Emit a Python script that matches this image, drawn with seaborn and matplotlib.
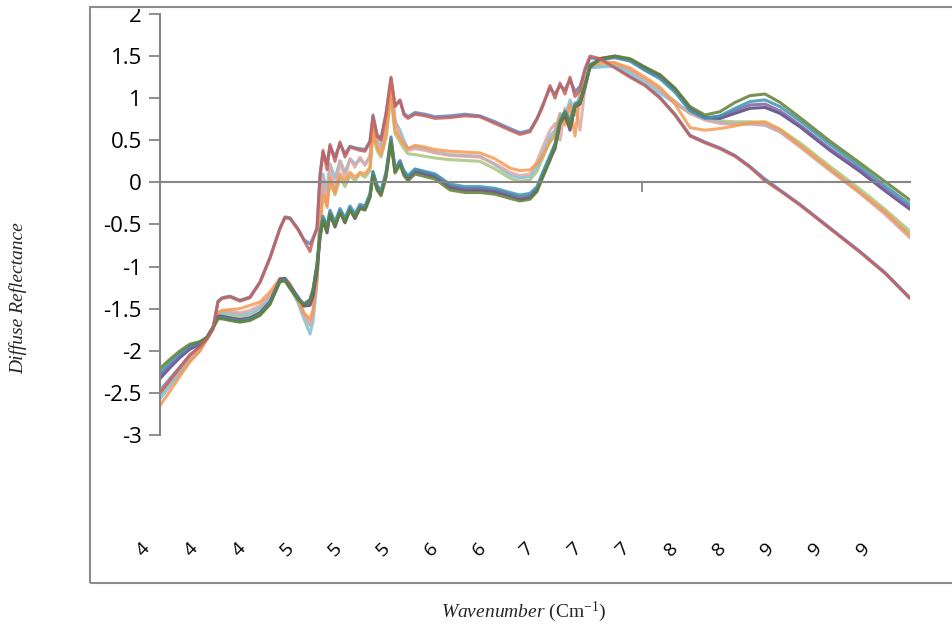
import pandas as pd
import seaborn as sns
import matplotlib.pyplot as plt
import matplotlib.transforms as mtransforms
from matplotlib.patches import Rectangle

wavenumber = [4000, 4080, 4160, 4240, 4320, 4376, 4424, 4464, 4496, 4560,
              4640, 4720, 4800, 4880, 4960, 5000, 5040, 5104, 5152, 5200,
              5224, 5256, 5280, 5304, 5336, 5360, 5400, 5440, 5480, 5520,
              5560, 5600, 5640, 5680, 5704, 5736, 5768, 5808, 5848, 5880,
              5920, 5952, 5984, 6040, 6120, 6200, 6320, 6440, 6560, 6680,
              6800, 6880, 6960, 7016, 7056, 7120, 7160, 7200, 7240, 7280,
              7320, 7360, 7400, 7440, 7520, 7640, 7760, 7880, 8000, 8120,
              8240, 8360, 8480, 8600, 8720, 8840, 8960, 9120, 9360, 9600,
              9800, 10000]

s_azul = [-2.47, -2.33, -2.19, -2.05, -1.95, -1.86, -1.73, -1.41, -1.37, -1.35,
          -1.40, -1.36, -1.18, -0.89, -0.54, -0.41, -0.42, -0.55, -0.68, -0.73,
          -0.66, -0.54, 0.10, 0.36, 0.22, 0.43, 0.30, 0.46, 0.34, 0.43,
          0.41, 0.40, 0.39, 0.49, 0.80, 0.57, 0.52, 0.82, 1.23, 0.92,
          0.97, 0.82, 0.78, 0.83, 0.81, 0.78, 0.79, 0.81, 0.79, 0.72,
          0.64, 0.59, 0.62, 0.76, 0.90, 1.12, 1.05, 1.15, 1.10, 1.22,
          1.08, 1.14, 1.33, 1.48, 1.46, 1.37, 1.26, 1.16, 1.01, 0.81,
          0.56, 0.48, 0.41, 0.32, 0.19, 0.04, -0.09, -0.26, -0.54, -0.82,
          -1.07, -1.37]

s_rojo = [-2.50, -2.35, -2.20, -2.05, -1.95, -1.86, -1.74, -1.42, -1.38, -1.36,
          -1.41, -1.37, -1.19, -0.90, -0.55, -0.42, -0.43, -0.56, -0.69, -0.82,
          -0.68, -0.55, 0.05, 0.38, 0.15, 0.45, 0.25, 0.48, 0.30, 0.42,
          0.40, 0.38, 0.37, 0.48, 0.78, 0.55, 0.50, 0.80, 1.25, 0.90,
          0.98, 0.80, 0.76, 0.81, 0.79, 0.76, 0.77, 0.79, 0.78, 0.70,
          0.62, 0.57, 0.60, 0.75, 0.88, 1.15, 1.00, 1.18, 1.05, 1.25,
          1.02, 1.10, 1.35, 1.50, 1.47, 1.36, 1.25, 1.15, 1.00, 0.80,
          0.55, 0.47, 0.40, 0.31, 0.18, 0.02, -0.10, -0.27, -0.55, -0.83,
          -1.08, -1.38]

s_naranja = [-2.65, -2.48, -2.30, -2.13, -2.00, -1.86, -1.74, -1.55, -1.52, -1.51,
             -1.50, -1.46, -1.42, -1.30, -1.14, -1.14, -1.20, -1.38, -1.55, -1.62,
             -1.52, -1.15, -0.55, -0.15, -0.28, 0.05, -0.12, 0.10, 0.00, 0.12,
             0.06, 0.12, 0.10, 0.18, 0.62, 0.42, 0.33, 0.55, 1.10, 0.62,
             0.52, 0.45, 0.40, 0.44, 0.42, 0.39, 0.37, 0.36, 0.35, 0.28,
             0.17, 0.14, 0.15, 0.22, 0.30, 0.48, 0.55, 0.80, 0.68, 0.92,
             0.55, 1.02, 1.20, 1.38, 1.42, 1.42, 1.36, 1.25, 1.13, 0.93,
             0.65, 0.62, 0.64, 0.67, 0.71, 0.72, 0.63, 0.44, 0.16, -0.12,
             -0.35, -0.63]

s_celeste = [-2.57, -2.42, -2.27, -2.12, -2.00, -1.85, -1.74, -1.56, -1.55, -1.55,
             -1.57, -1.55, -1.49, -1.36, -1.17, -1.16, -1.24, -1.43, -1.62, -1.80,
             -1.65, -1.20, -0.45, 0.10, -0.10, 0.22, 0.05, 0.26, 0.12, 0.28,
             0.22, 0.27, 0.22, 0.30, 0.75, 0.50, 0.42, 0.72, 1.18, 0.72,
             0.62, 0.50, 0.40, 0.42, 0.40, 0.36, 0.33, 0.32, 0.31, 0.21,
             0.09, 0.05, 0.07, 0.18, 0.32, 0.55, 0.62, 0.82, 0.78, 0.98,
             0.85, 1.05, 1.22, 1.36, 1.37, 1.38, 1.30, 1.18, 1.06, 0.94,
             0.82, 0.75, 0.71, 0.69, 0.70, 0.68, 0.60, 0.43, 0.15, -0.12,
             -0.36, -0.63]

s_verde_claro = [-2.52, -2.38, -2.24, -2.10, -1.98, -1.85, -1.74, -1.57, -1.57, -1.58,
                 -1.60, -1.58, -1.52, -1.39, -1.17, -1.16, -1.24, -1.40, -1.56, -1.68,
                 -1.55, -1.15, -0.50, -0.05, -0.25, 0.00, -0.15, 0.05, -0.05, 0.08,
                 0.02, 0.10, 0.06, 0.14, 0.58, 0.38, 0.30, 0.52, 1.02, 0.58,
                 0.48, 0.40, 0.34, 0.33, 0.31, 0.29, 0.27, 0.26, 0.25, 0.16,
                 0.05, 0.01, 0.03, 0.13, 0.27, 0.50, 0.58, 0.78, 0.72, 0.94,
                 0.80, 1.02, 1.20, 1.36, 1.39, 1.40, 1.33, 1.22, 1.10, 0.96,
                 0.82, 0.76, 0.73, 0.72, 0.72, 0.71, 0.63, 0.47, 0.19, -0.08,
                 -0.32, -0.58]

s_rosa = [-2.48, -2.36, -2.22, -2.08, -1.97, -1.85, -1.73, -1.54, -1.53, -1.53,
          -1.55, -1.52, -1.46, -1.34, -1.16, -1.15, -1.22, -1.40, -1.58, -1.70,
          -1.55, -1.10, -0.40, 0.05, -0.30, 0.20, -0.10, 0.25, 0.05, 0.28,
          0.18, 0.30, 0.20, 0.32, 0.70, 0.45, 0.38, 0.70, 1.20, 0.75,
          0.55, 0.47, 0.38, 0.40, 0.38, 0.35, 0.32, 0.31, 0.30, 0.22,
          0.12, 0.08, 0.10, 0.25, 0.40, 0.62, 0.70, 0.50, 0.88, 0.75,
          0.95, 0.62, 1.12, 1.40, 1.44, 1.42, 1.34, 1.22, 1.10, 0.96,
          0.82, 0.74, 0.70, 0.69, 0.69, 0.68, 0.60, 0.42, 0.14, -0.13,
          -0.38, -0.66]

s_verde_oscuro = [-2.21, -2.10, -2.00, -1.92, -1.89, -1.84, -1.73, -1.62, -1.62, -1.64,
                  -1.66, -1.64, -1.58, -1.45, -1.18, -1.17, -1.26, -1.39, -1.46, -1.40,
                  -1.28, -0.98, -0.64, -0.45, -0.58, -0.38, -0.52, -0.36, -0.47, -0.33,
                  -0.42, -0.31, -0.33, -0.18, 0.08, -0.09, -0.16, 0.06, 0.48, 0.11,
                  0.21, 0.08, 0.02, 0.10, 0.07, 0.04, -0.09, -0.12, -0.12, -0.14,
                  -0.19, -0.22, -0.20, -0.11, 0.04, 0.26, 0.42, 0.70, 0.82, 0.66,
                  0.90, 0.95, 1.14, 1.38, 1.47, 1.50, 1.47, 1.37, 1.28, 1.12,
                  0.90, 0.80, 0.84, 0.95, 1.03, 1.05, 0.95, 0.77, 0.49, 0.23,
                  0.01, -0.21]

s_turquesa = [-2.26, -2.14, -2.03, -1.94, -1.90, -1.84, -1.72, -1.61, -1.61, -1.63,
              -1.65, -1.63, -1.57, -1.44, -1.17, -1.16, -1.25, -1.38, -1.44, -1.39,
              -1.27, -0.97, -0.60, -0.40, -0.52, -0.33, -0.47, -0.31, -0.42, -0.28,
              -0.37, -0.26, -0.28, -0.13, 0.13, -0.03, -0.10, 0.12, 0.52, 0.17,
              0.24, 0.14, 0.08, 0.16, 0.13, 0.10, -0.02, -0.05, -0.05, -0.07,
              -0.12, -0.15, -0.13, -0.05, 0.10, 0.32, 0.46, 0.73, 0.85, 0.72,
              0.93, 0.97, 1.16, 1.40, 1.46, 1.48, 1.44, 1.33, 1.23, 1.07,
              0.85, 0.76, 0.79, 0.88, 0.96, 0.98, 0.90, 0.73, 0.45, 0.19,
              -0.04, -0.26]

s_morado = [-2.30, -2.18, -2.06, -1.96, -1.91, -1.84, -1.72, -1.60, -1.60, -1.62,
            -1.64, -1.62, -1.56, -1.43, -1.16, -1.15, -1.24, -1.37, -1.45, -1.42,
            -1.30, -1.00, -0.62, -0.42, -0.55, -0.35, -0.50, -0.33, -0.45, -0.30,
            -0.40, -0.28, -0.30, -0.15, 0.12, -0.05, -0.12, 0.10, 0.54, 0.15,
            0.26, 0.12, 0.06, 0.15, 0.12, 0.09, -0.04, -0.07, -0.07, -0.09,
            -0.14, -0.18, -0.16, -0.07, 0.08, 0.30, 0.45, 0.72, 0.84, 0.70,
            0.92, 0.96, 1.15, 1.38, 1.46, 1.49, 1.45, 1.34, 1.25, 1.09,
            0.86, 0.77, 0.78, 0.85, 0.92, 0.93, 0.85, 0.68, 0.40, 0.15,
            -0.08, -0.30]

s_morado_oscuro = [-2.33, -2.20, -2.08, -1.98, -1.92, -1.84, -1.72, -1.59, -1.59, -1.61,
                   -1.63, -1.61, -1.55, -1.42, -1.15, -1.14, -1.23, -1.36, -1.47, -1.46,
                   -1.35, -1.05, -0.66, -0.44, -0.60, -0.37, -0.53, -0.35, -0.48, -0.32,
                   -0.43, -0.30, -0.32, -0.17, 0.10, -0.07, -0.14, 0.08, 0.50, 0.13,
                   0.24, 0.10, 0.04, 0.13, 0.10, 0.07, -0.06, -0.09, -0.09, -0.11,
                   -0.16, -0.20, -0.18, -0.09, 0.05, 0.28, 0.40, 0.70, 0.80, 0.62,
                   0.90, 0.93, 1.13, 1.37, 1.47, 1.50, 1.46, 1.36, 1.27, 1.11,
                   0.88, 0.77, 0.76, 0.82, 0.88, 0.89, 0.82, 0.66, 0.38, 0.13,
                   -0.10, -0.32]

# Etiquetas del eje X tal como aparecen (solo la primera cifra)
tick_labels = ['4', '4', '4', '5', '5', '5', '6', '6', '7', '7', '7', '8', '8', '9', '9', '9']
y_ticks = [-3, -2.5, -2, -1.5, -1, -0.5, 0, 0.5, 1, 1.5, 2]
y_labels = ['-3', '-2.5', '-2', '-1.5', '-1', '-0.5', '0', '0.5', '1', '1.5', '2']

series = {
    'azul': (s_azul, '#5B86BE'),
    'verde claro': (s_verde_claro, '#A9C47E'),
    'celeste': (s_celeste, '#7FC0DA'),
    'rosa': (s_rosa, '#DDA8A6'),
    'naranja': (s_naranja, '#F79A52'),
    'morado oscuro': (s_morado_oscuro, '#54427C'),
    'morado': (s_morado, '#7B63A6'),
    'turquesa': (s_turquesa, '#3C95AE'),
    'verde oscuro': (s_verde_oscuro, '#627F35'),
    'rojo': (s_rojo, '#C4605C'),
}

GRIS = '#868686'


def main():
    sns.set_style("white")
    plt.rcParams['font.family'] = ['Open Sans', 'DejaVu Sans']
    plt.rcParams['mathtext.fontset'] = 'custom'
    plt.rcParams['mathtext.rm'] = 'Liberation Serif'
    plt.rcParams['mathtext.it'] = 'Liberation Serif:italic'

    trozos = []
    for nombre, (valores, _) in series.items():
        trozos.append(pd.DataFrame({'wavenumber': wavenumber,
                                    'reflectance': valores,
                                    'serie': nombre}))
    df = pd.concat(trozos, ignore_index=True)
    colores = {nombre: c for nombre, (_, c) in series.items()}

    W, H = 953, 627
    fig = plt.figure(figsize=(W / 100, H / 100), dpi=100)
    # el area de trazado va de x=160 a 910 px y de y=14 a 435 px
    ax = fig.add_axes([160 / W, (H - 435) / H, 750 / W, 421 / H])

    sns.lineplot(data=df, x='wavenumber', y='reflectance', hue='serie',
                 hue_order=list(series.keys()), palette=colores,
                 estimator=None, sort=False, linewidth=2.2, alpha=0.85,
                 legend=False, ax=ax)

    ax.set_xlim(4000, 10000)
    ax.set_ylim(-3, 2)
    ax.set_xlabel('')
    ax.set_ylabel('')

    # ejes estilo Excel: eje vertical a la izquierda, linea del cero como eje X
    for lado in ['top', 'right']:
        ax.spines[lado].set_visible(False)
    ax.spines['left'].set_color(GRIS)
    ax.spines['left'].set_linewidth(1.5)
    ax.spines['bottom'].set_position(('data', 0))
    ax.spines['bottom'].set_color(GRIS)
    ax.spines['bottom'].set_linewidth(1.5)

    ax.set_yticks(y_ticks, y_labels)
    ax.tick_params(axis='y', left=True, direction='out', length=8, width=1.3,
                   color=GRIS, labelsize=16, pad=5, labelcolor='black')

    tick_pos = [4000 + 384 * i for i in range(len(tick_labels))]
    ax.set_xticks(tick_pos, tick_labels, rotation=45, ha='center')
    ax.tick_params(axis='x', which='both', bottom=True)
    ax.tick_params(axis='x', which='major', length=0, pad=257, labelsize=14,
                   labelcolor='black')
    ax.set_xticks([7856], minor=True)
    ax.tick_params(axis='x', which='minor', direction='out', length=7,
                   width=1.3, color=GRIS)
    desplaza = mtransforms.ScaledTranslation(-17 / 100, 0, fig.dpi_scale_trans)
    for etiqueta in ax.get_xticklabels():
        etiqueta.set_transform(etiqueta.get_transform() + desplaza)

    # titulos de los ejes
    fig.text(18 / W, 1 - 298 / H, 'Diffuse Reflectance', rotation=90,
             family='Liberation Serif', style='italic', fontsize=14,
             ha='center', va='center')
    fig.text(524 / W, 1 - 612 / H, r'$\mathit{Wavenumber}$ (Cm$^{\mathrm{-1}}$)',
             family='Liberation Serif', fontsize=14, ha='center', va='center')

    # banda blanca arriba (corta el "2") y marco del grafico
    fig.add_artist(Rectangle((0, 1 - 9 / H), 1, 9 / H, transform=fig.transFigure,
                             facecolor='white', edgecolor='none', zorder=5))
    fig.add_artist(Rectangle((90 / W, 1 - 583 / H), 1.0, (583 - 7) / H,
                             transform=fig.transFigure, facecolor='none',
                             edgecolor='#8C8C8C', linewidth=1.5, zorder=6))

    fig.savefig('out.png', dpi=100)
    plt.close(fig)


if __name__ == '__main__':
    main()
